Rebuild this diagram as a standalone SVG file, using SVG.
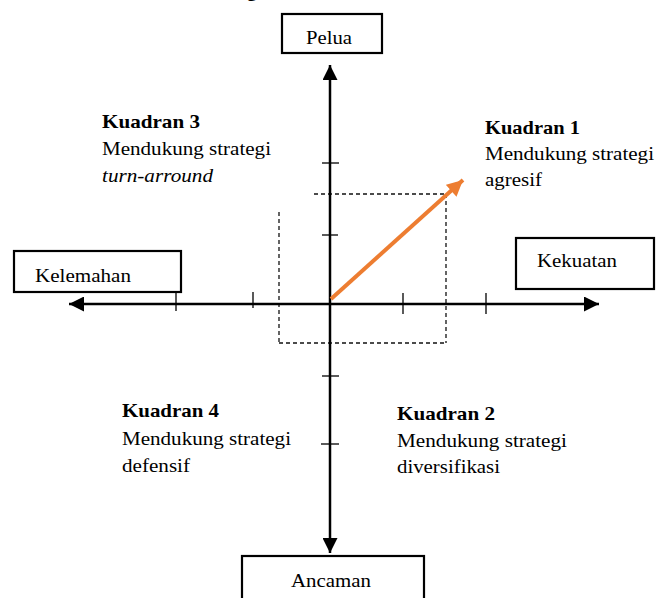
<svg xmlns="http://www.w3.org/2000/svg" width="659" height="598" viewBox="0 0 659 598">
  <style>
    text { font-family: "Liberation Serif", "Times New Roman", serif; font-size: 19px; fill: #000; }
    .b { font-weight: bold; }
    .i { font-style: italic; }
    .box { fill: #fff; stroke: #000; stroke-width: 2.2; }
    .axis { stroke: #000; stroke-width: 2.5; fill: none; }
    .tick { stroke: #000; stroke-width: 1.3; }
    .dash { stroke: #111; stroke-width: 1.3; stroke-dasharray: 4 3; fill: none; }
  </style>
  <defs>
    <marker id="ah" viewBox="0 0 10 10" refX="10" refY="5" markerWidth="6" markerHeight="6" markerUnits="strokeWidth" orient="auto">
      <path d="M0,0 L10,5 L0,10 z" fill="#000"/>
    </marker>
    <marker id="oh" viewBox="0 0 10 10" refX="10" refY="5" markerWidth="4.2" markerHeight="4" markerUnits="strokeWidth" orient="auto">
      <path d="M0,0 L10,5 L0,10 z" fill="#ED7D31"/>
    </marker>
    <clipPath id="pc"><rect x="282" y="14" width="100" height="30"/></clipPath>
  </defs>
  <rect width="659" height="598" fill="#fff"/>

  <text class="b" x="247" y="-3" font-size="20">g</text>

  <g id="connectors">
    <line class="dash" x1="279" y1="212" x2="279" y2="343"/>
    <line class="dash" x1="279" y1="343" x2="446" y2="343"/>
    <line class="dash" x1="446" y1="194" x2="446" y2="343"/>
    <line class="dash" x1="314" y1="194" x2="446" y2="194"/>

    <line class="axis" x1="330" y1="304" x2="69" y2="304" marker-end="url(#ah)"/>
    <line class="axis" x1="330" y1="304" x2="599" y2="304" marker-end="url(#ah)"/>
    <line class="axis" x1="330" y1="304" x2="330" y2="65" marker-end="url(#ah)"/>
    <line class="axis" x1="330" y1="304" x2="330" y2="553" marker-end="url(#ah)"/>

    <line class="tick" x1="176" y1="288" x2="176" y2="311"/>
    <line class="tick" x1="253" y1="292" x2="253" y2="308"/>
    <line class="tick" x1="403" y1="293" x2="403" y2="314"/>
    <line class="tick" x1="486" y1="293" x2="486" y2="314"/>
    <line class="tick" x1="322" y1="163" x2="339" y2="163"/>
    <line class="tick" x1="322" y1="235" x2="338" y2="235"/>
    <line class="tick" x1="322" y1="376" x2="339" y2="376"/>
    <line class="tick" x1="321" y1="444" x2="339" y2="444"/>

    <line x1="331" y1="299" x2="463" y2="180" stroke="#ED7D31" stroke-width="4" marker-end="url(#oh)"/>
  </g>

  <g id="node-pelua">
    <rect class="box" x="282" y="14" width="100" height="39"/>
    <text x="306" y="44" textLength="46" lengthAdjust="spacingAndGlyphs" clip-path="url(#pc)">Pelua</text>
  </g>
  <g id="node-kelemahan">
    <rect class="box" x="14" y="251" width="167" height="41"/>
    <text x="35" y="282" textLength="96" lengthAdjust="spacingAndGlyphs">Kelemahan</text>
  </g>
  <g id="node-kekuatan">
    <rect class="box" x="516" y="238" width="138" height="51"/>
    <text x="537" y="267" textLength="80" lengthAdjust="spacingAndGlyphs">Kekuatan</text>
  </g>
  <g id="node-ancaman">
    <rect class="box" x="242" y="556" width="182" height="50"/>
    <text x="291" y="587" textLength="80" lengthAdjust="spacingAndGlyphs">Ancaman</text>
  </g>

  <g id="q3">
    <text class="b" x="102" y="128" textLength="98" lengthAdjust="spacingAndGlyphs">Kuadran 3</text>
    <text x="102" y="155" textLength="169" lengthAdjust="spacingAndGlyphs">Mendukung strategi</text>
    <text class="i" x="102" y="182" textLength="111" lengthAdjust="spacingAndGlyphs">turn-arround</text>
  </g>
  <g id="q1">
    <text class="b" x="485" y="134" textLength="95" lengthAdjust="spacingAndGlyphs">Kuadran 1</text>
    <text x="485" y="160" textLength="169" lengthAdjust="spacingAndGlyphs">Mendukung strategi</text>
    <text x="485" y="186" textLength="57" lengthAdjust="spacingAndGlyphs">agresif</text>
  </g>
  <g id="q4">
    <text class="b" x="122" y="417" textLength="97" lengthAdjust="spacingAndGlyphs">Kuadran 4</text>
    <text x="122" y="445" textLength="169" lengthAdjust="spacingAndGlyphs">Mendukung strategi</text>
    <text x="122" y="472" textLength="68" lengthAdjust="spacingAndGlyphs">defensif</text>
  </g>
  <g id="q2">
    <text class="b" x="397" y="420" textLength="98" lengthAdjust="spacingAndGlyphs">Kuadran 2</text>
    <text x="397" y="447" textLength="170" lengthAdjust="spacingAndGlyphs">Mendukung strategi</text>
    <text x="397" y="473" textLength="103" lengthAdjust="spacingAndGlyphs">diversifikasi</text>
  </g>
</svg>
